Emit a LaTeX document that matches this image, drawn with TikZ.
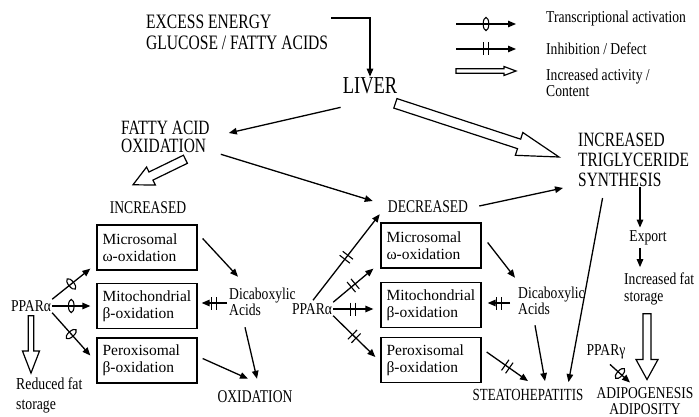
\documentclass[tikz,border=0pt]{standalone}
\usepackage{fontspec}
\setmainfont{Liberation Serif}
\newfontfamily\narrowfont{Liberation Serif}[FakeStretch=0.82]
\newfontfamily\capsfamily{Liberation Serif}[FakeStretch=0.76]
\usetikzlibrary{arrows.meta, calc, decorations.markings}
\newcommand{\lblfont}[2]{\narrowfont\fontsize{#1}{#2}\selectfont}
\newcommand{\capfont}[2]{\capsfamily\fontsize{#1}{#2}\selectfont}
\tikzstyle{lbl} = [inner sep=1pt, align=left, font=\lblfont{16.6}{17}]
\tikzstyle{caplbl} = [lbl, font=\capfont{17.9}{20}]
\tikzstyle{oxbox} = [draw, line width=1.3pt, minimum width=100pt, minimum height=45pt, text width=89pt, inner xsep=5.5pt, align=left, font=\fontsize{15.5}{17}\selectfont]
\tikzstyle{arrow} = [line width=1.3pt, -{Triangle[length=8pt,width=6.5pt]}]
\tikzstyle{activ} = [arrow, decoration={markings, mark=at position 0.5 with {\draw[-, line width=1.1pt] (0,0) ellipse [x radius=2.8pt, y radius=6.5pt];}}, postaction={decorate}]
\tikzstyle{inhib} = [arrow, decoration={markings, mark=at position 0.5 with {\draw[-, line width=1.1pt] (-2.5,-6.5) -- (-2.5,6.5) (2.5,-6.5) -- (2.5,6.5);}}, postaction={decorate}]
\tikzstyle{hollow} = [draw, fill=white, line width=1.2pt]
% hollow arrow: from, to, shaft half width, head half width, head length
\newcommand{\fatarrow}[5]{%
  \coordinate (faA) at (#1);
  \coordinate (faB) at (#2);
  \coordinate (faH) at ($(faB)!#5!(faA)$);
  \draw[hollow] ($(faA)!#3!90:(faB)$) -- ($(faH)!#3!-90:(faA)$) -- ($(faH)!#4!-90:(faA)$) -- (faB)
    -- ($(faH)!#4!90:(faA)$) -- ($(faH)!#3!90:(faA)$) -- ($(faA)!#3!-90:(faB)$) -- cycle;}

\begin{document}
\begin{tikzpicture}[x=1pt, y=-1pt]
    \useasboundingbox (0,0) rectangle (699,417);
    % top
    \node (excess) [caplbl, anchor=west, font=\capfont{20.5}{21}] at (145,32) {EXCESS ENERGY\\GLUCOSE / FATTY ACIDS};
    \node (liver) [caplbl, font=\capfont{24.3}{24}] at (370,86) {LIVER};
    \node (fao) [caplbl, anchor=west, font=\capfont{20.3}{18.5}] at (120,137) {FATTY ACID\\OXIDATION};
    \node (trig) [caplbl, anchor=west, font=\capfont{20.3}{20}] at (577,160) {INCREASED\\TRIGLYCERIDE\\SYNTHESIS};

    % legend
    \coordinate (lga1) at (456,24); \coordinate (lgb1) at (516,24);
    \coordinate (lga2) at (456,49); \coordinate (lgb2) at (516,49);
    \coordinate (lga3) at (456,71); \coordinate (lgb3) at (516,71);
    \node (lgt1) [lbl, anchor=west] at (545,19) {Transcriptional activation};
    \node (lgt2) [lbl, anchor=west] at (545,49) {Inhibition / Defect};
    \node (lgt3) [lbl, anchor=west, font=\lblfont{16.6}{15.5}] at (545,83) {Increased activity /\\Content};
    \draw[activ] (lga1) -- (lgb1);
    \draw[inhib] (lga2) -- (lgb2);
    \fatarrow{lga3}{lgb3}{2.2pt}{4.5pt}{12pt}

    % increased side
    \node (incL) [caplbl] at (148,208) {INCREASED};
    \node (micL) [oxbox] at (147,247.5) {Microsomal\\ω-oxidation};
    \node (mitL) [oxbox] at (147,306) {Mitochondrial\\β-oxidation};
    \node (perL) [oxbox] at (147,360.5) {Peroxisomal\\β-oxidation};
    \node (ppl) [lbl] at (31,306) {PPARα};
    \node (redfat) [lbl, anchor=west, font=\lblfont{16.8}{20}] at (15,395) {Reduced fat\\storage};
    \node (dicL) [lbl, anchor=west, font=\lblfont{16.6}{16.5}] at (228,302) {Dicaboxylic\\Acids};
    \node (oxid) [caplbl] at (255,397) {OXIDATION};

    % decreased side
    \node (decR) [caplbl] at (428,207) {DECREASED};
    \node (micR) [oxbox] at (431,245.5) {Microsomal\\ω-oxidation};
    \node (mitR) [oxbox] at (431,305) {Mitochondrial\\β-oxidation};
    \node (perR) [oxbox] at (431,360) {Peroxisomal\\β-oxidation};
    \node (ppm) [lbl] at (312,309) {PPARα};
    \node (dicR) [lbl, anchor=west, font=\lblfont{16.6}{16.5}] at (517,301) {Dicaboxylic\\Acids};
    \node (steato) [caplbl, font=\capfont{17}{17}] at (528,395) {STEATOHEPATITIS};

    % export side
    \node (export) [lbl] at (648,238) {Export};
    \node (fat) [lbl, anchor=west] at (623,288.5) {Increased fat\\storage};
    \node (pparg) [lbl] at (606,352) {PPARγ};
    \node (adipo) [lbl, align=center, font=\lblfont{16.5}{15.5}] at (645,401) {ADIPOGENESIS\\ADIPOSITY};

    % connectors
    \draw[arrow] ($(excess.east)+(2,-14)$) -| (liver.north);
    \draw[arrow] ($(liver.south west)+(-1,12)$) -- ($(fao.east)+(18,-4)$);
    \fatarrow{$(liver.south east)+(-3,8)$}{$(trig.west)+(-18,-3)$}{5pt}{12pt}{42pt}
    \fatarrow{$(fao.south)+(20,5)$}{$(incL.north)+(-15,-16)$}{4.5pt}{10pt}{20pt}
    \draw[arrow] ($(fao.south east)+(10,0)$) -- ($(decR.west)+(-14,-6)$);
    \draw[arrow] ($(decR.east)+(10,-1)$) -- ($(trig.west)+(-14,28)$);
    \draw[arrow] ($(trig.south)+(-31,10)$) -- ($(steato.north east)+(-16,-6)$);
    \draw[arrow] ($(trig.south -| export.north)+(-8,-1)$) -- ($(export.north)+(-8,-2)$);
    \draw[arrow] ($(export.south)+(-8,2)$) -- ($(fat.north -| export.south)+(-8,-4)$);
    \fatarrow{$(fat.south -| adipo.north)+(2,8)$}{$(adipo.north)+(2,-7)$}{4pt}{11pt}{20pt}
    \draw[activ] ($(pparg.south)+(4,4)$) -- ($(adipo.north)+(-15,-4)$);

    \draw[activ] (ppl.north east) -- ($(micL.south west)+(-6,-2)$);
    \draw[activ] (ppl.east) -- ($(ppl.east -| mitL.west)+(-6,0)$);
    \draw[activ] (ppl.south east) -- ($(perL.west)+(-6,-5)$);
    \fatarrow{$(ppl.south)+(0,3)$}{$(redfat.north -| ppl.south)+(0,-3)$}{2.8pt}{8.5pt}{22pt}
    \draw[arrow] ($(micL.east)+(5,-9)$) -- ($(dicL.north west)+(10,-10)$);
    \draw[inhib] ($(dicL.west)+(-1,1)$) -- ($(mitL.east |- dicL.west)+(4,1)$);
    \draw[arrow] ($(dicL.south west)+(17,10)$) -- ($(oxid.north)+(2,-11)$);
    \draw[arrow] ($(perL.east)+(5,-2)$) -- ($(oxid.north)+(-7,-11)$);

    \draw[inhib] ($(ppm.north)+(1,-2)$) -- ($(decR.south west)+(-7,0)$);
    \draw[inhib] (ppm.north east) -- ($(micR.south west)+(-7,0)$);
    \draw[inhib] (ppm.east) -- ($(ppm.east -| mitR.west)+(-7,0)$);
    \draw[inhib] (ppm.south east) -- ($(perR.west)+(-5,-3)$);
    \draw[arrow] ($(micR.east)+(6,-3)$) -- ($(dicR.north west)+(-2,-8)$);
    \draw[inhib] ($(dicR.west)+(-7,2)$) -- ($(mitR.east |- dicR.west)+(6,2)$);
    \draw[arrow] ($(dicR.south west)+(18,9)$) -- ($(steato.north)+(17,-7)$);
    \draw[inhib] ($(perR.east)+(5,-8)$) -- ($(steato.north)+(0,-7)$);
\end{tikzpicture}
\end{document}
